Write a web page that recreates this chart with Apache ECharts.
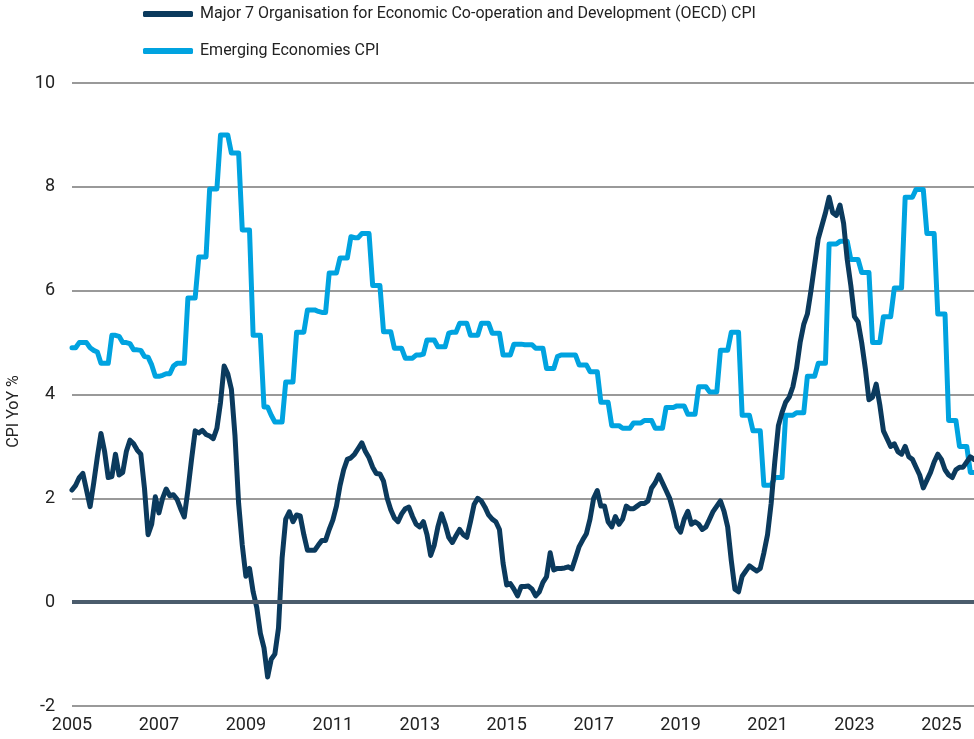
<!DOCTYPE html>
<html><head><meta charset="utf-8">
<script src="https://cdn.jsdelivr.net/npm/echarts@6/dist/echarts.min.js"></script>
<style>html,body{margin:0;padding:0;background:#fff}#c{width:974px;height:739px}</style>
</head><body><div id="c"></div>
<script>
// Monthly observations, first value = Jan 2005
const firstYear = 2005;
const lastDate = 2025.75;
const yearTicks = [2005, 2007, 2009, 2011, 2013, 2015, 2017, 2019, 2021, 2023, 2025];
const seriesNames = ['Major 7 Organisation for Economic Co-operation and Development (OECD) CPI', 'Emerging Economies CPI'];

const major7Cpi = [
  2.16, 2.25, 2.4, 2.48, 2.16, 1.84, 2.3, 2.8, 3.25, 2.9, 2.4, 2.42,
  2.85, 2.45, 2.5, 2.9, 3.12, 3.05, 2.93, 2.85, 2.2, 1.3, 1.5, 2.03,
  1.72, 2.0, 2.18, 2.05, 2.07, 1.98, 1.8, 1.64, 2.16, 2.75, 3.3, 3.26,
  3.31, 3.23, 3.2, 3.15, 3.35, 3.85, 4.55, 4.4, 4.1, 3.2, 1.9, 1.1,
  0.5, 0.65, 0.2, -0.1, -0.6, -0.88, -1.44, -1.1, -1.0, -0.5, 0.85, 1.6,
  1.74, 1.55, 1.68, 1.66, 1.3, 1.0, 1.0, 1.0, 1.1, 1.19, 1.19, 1.4,
  1.58, 1.85, 2.25, 2.55, 2.75, 2.78, 2.85, 2.96, 3.07, 2.9, 2.78, 2.6,
  2.48, 2.47, 2.33, 2.0, 1.78, 1.62, 1.55, 1.7, 1.8, 1.83, 1.65, 1.5,
  1.45, 1.55, 1.3, 0.9, 1.1, 1.45, 1.7, 1.5, 1.25, 1.15, 1.28, 1.4,
  1.3, 1.25, 1.55, 1.88, 2.0, 1.95, 1.83, 1.68, 1.6, 1.55, 1.4, 0.75,
  0.33, 0.36, 0.25, 0.12, 0.3, 0.3, 0.31, 0.25, 0.12, 0.2, 0.38, 0.49,
  0.95, 0.62, 0.65, 0.65, 0.66, 0.68, 0.64, 0.85, 1.07, 1.2, 1.32, 1.6,
  2.0, 2.15, 1.85, 1.85, 1.55, 1.45, 1.65, 1.5, 1.6, 1.85, 1.8, 1.8,
  1.85, 1.9, 1.9, 1.95, 2.2, 2.3, 2.45, 2.3, 2.15, 2.0, 1.75, 1.45,
  1.35, 1.6, 1.75, 1.5, 1.55, 1.5, 1.4, 1.45, 1.6, 1.75, 1.85, 1.95,
  1.75, 1.45, 0.8, 0.25, 0.2, 0.5, 0.6, 0.7, 0.65, 0.6, 0.65, 0.95,
  1.3, 1.9, 2.7, 3.4, 3.65, 3.85, 3.95, 4.15, 4.5, 5.0, 5.35, 5.55,
  6.0, 6.5, 7.0, 7.25, 7.5, 7.8, 7.5, 7.45, 7.65, 7.3, 6.6, 6.1,
  5.5, 5.4, 5.0, 4.5, 3.9, 3.95, 4.2, 3.8, 3.3, 3.15, 3.0, 3.05,
  2.9, 2.85, 3.0, 2.8, 2.75, 2.6, 2.45, 2.2, 2.35, 2.5, 2.7, 2.85,
  2.75, 2.55, 2.45, 2.4, 2.55, 2.6, 2.6, 2.7, 2.8, 2.75
];

const emergingCpi = [
  4.9, 4.9, 5.0, 5.0, 5.0, 4.9, 4.85, 4.82, 4.6, 4.6, 4.6, 5.14,
  5.14, 5.12, 5.0, 5.0, 4.98, 4.86, 4.86, 4.85, 4.73, 4.72, 4.57, 4.35,
  4.35, 4.37, 4.4, 4.4, 4.55, 4.6, 4.6, 4.6, 5.86, 5.86, 5.86, 6.65,
  6.65, 6.65, 7.96, 7.96, 7.96, 9.0, 9.0, 9.0, 8.65, 8.65, 8.65, 7.17,
  7.17, 7.17, 5.14, 5.14, 5.14, 3.76, 3.76, 3.6, 3.47, 3.47, 3.47, 4.24,
  4.24, 4.24, 5.2, 5.2, 5.2, 5.63, 5.63, 5.63, 5.6, 5.58, 5.58, 6.34,
  6.34, 6.34, 6.63, 6.63, 6.63, 7.04, 7.02, 7.02, 7.1, 7.1, 7.1, 6.1,
  6.1, 6.1, 5.21, 5.21, 5.21, 4.89, 4.89, 4.89, 4.7, 4.7, 4.7, 4.76,
  4.76, 4.78, 5.05, 5.05, 5.05, 4.92, 4.92, 4.92, 5.18, 5.2, 5.2, 5.37,
  5.37, 5.37, 5.14, 5.14, 5.14, 5.37, 5.37, 5.37, 5.18, 5.18, 5.18, 4.76,
  4.76, 4.76, 4.97, 4.97, 4.97, 4.96, 4.96, 4.96, 4.89, 4.89, 4.89, 4.5,
  4.5, 4.5, 4.73, 4.76, 4.76, 4.76, 4.76, 4.76, 4.57, 4.57, 4.57, 4.44,
  4.44, 4.44, 3.85, 3.85, 3.85, 3.4, 3.4, 3.4, 3.35, 3.35, 3.35, 3.45,
  3.45, 3.45, 3.5, 3.5, 3.5, 3.35, 3.35, 3.35, 3.75, 3.75, 3.75, 3.78,
  3.78, 3.78, 3.62, 3.62, 3.62, 4.15, 4.15, 4.15, 4.05, 4.05, 4.05, 4.85,
  4.85, 4.85, 5.2, 5.2, 5.2, 3.6, 3.6, 3.6, 3.3, 3.3, 3.3, 2.25,
  2.25, 2.25, 2.4, 2.4, 2.4, 3.6, 3.6, 3.6, 3.65, 3.65, 3.65, 4.35,
  4.35, 4.35, 4.6, 4.6, 4.6, 6.9, 6.9, 6.9, 6.95, 6.95, 6.95, 6.6,
  6.6, 6.6, 6.35, 6.35, 6.35, 5.0, 5.0, 5.0, 5.5, 5.5, 5.5, 6.05,
  6.05, 6.05, 7.8, 7.8, 7.8, 7.95, 7.95, 7.95, 7.1, 7.1, 7.1, 5.55,
  5.55, 5.55, 3.5, 3.5, 3.5, 3.0, 3.0, 3.0, 2.5, 2.5
];

const toPairs = arr => arr.map((v, i) => [firstYear + i / 12, v]);

const chart = echarts.init(document.getElementById('c'), null, {renderer: 'canvas'});
const font = 'Roboto, "Noto Sans", sans-serif';
chart.setOption({
  animation: false,
  backgroundColor: '#ffffff',
  textStyle: {fontFamily: font},
  legend: {
    orient: 'vertical',
    left: 143, top: 6,
    itemWidth: 50, itemHeight: 6, itemGap: 21,
    icon: 'roundRect',
    padding: 0,
    data: seriesNames,
    textStyle: {fontSize: 16, color: '#222222', fontFamily: font, padding: [0, 0, 0, 2]}
  },
  grid: {left: 72, right: 0, top: 83, bottom: 33, containLabel: false, outerBoundsMode: 'none'},
  xAxis: {
    type: 'value',
    min: firstYear, max: lastDate, interval: 2,
    axisLine: {show: false}, axisTick: {show: false}, splitLine: {show: false},
    axisLabel: {showMaxLabel: false, margin: 10, fontSize: 18, color: '#222222', fontFamily: font,
      formatter: v => yearTicks.includes(v) ? String(v) : ''}
  },
  yAxis: {
    type: 'value', min: -2, max: 10, interval: 2,
    name: 'CPI YoY %', nameLocation: 'middle', nameGap: 50, nameRotate: 90, nameMoveOverlap: false,
    nameTextStyle: {fontSize: 16, color: '#222222', fontFamily: font, padding: [0, 34, 0, 0]},
    axisLine: {show: false}, axisTick: {show: false},
    axisLabel: {margin: 17, align: 'right', fontSize: 18, color: '#222222', fontFamily: font},
    splitLine: {lineStyle: {color: '#999999', width: 2}}
  },
  series: [
    {
      name: 'zero', type: 'line', data: [], z: 1, silent: true,
      markLine: {silent: true, symbol: 'none', label: {show: false},
        lineStyle: {color: '#4b5c6c', width: 4, type: 'solid'}, data: [{yAxis: 0}]}
    },
    {
      name: seriesNames[0], type: 'line', data: toPairs(major7Cpi), showSymbol: false, z: 3,
      color: '#0b3a5d',
      lineStyle: {width: 5, color: '#0b3a5d', cap: 'round', join: 'round'}
    },
    {
      name: seriesNames[1], type: 'line', data: toPairs(emergingCpi), showSymbol: false, z: 2,
      color: '#00a3e0',
      lineStyle: {width: 5, color: '#00a3e0', cap: 'round', join: 'round'}
    }
  ]
});
</script>
</body></html>
